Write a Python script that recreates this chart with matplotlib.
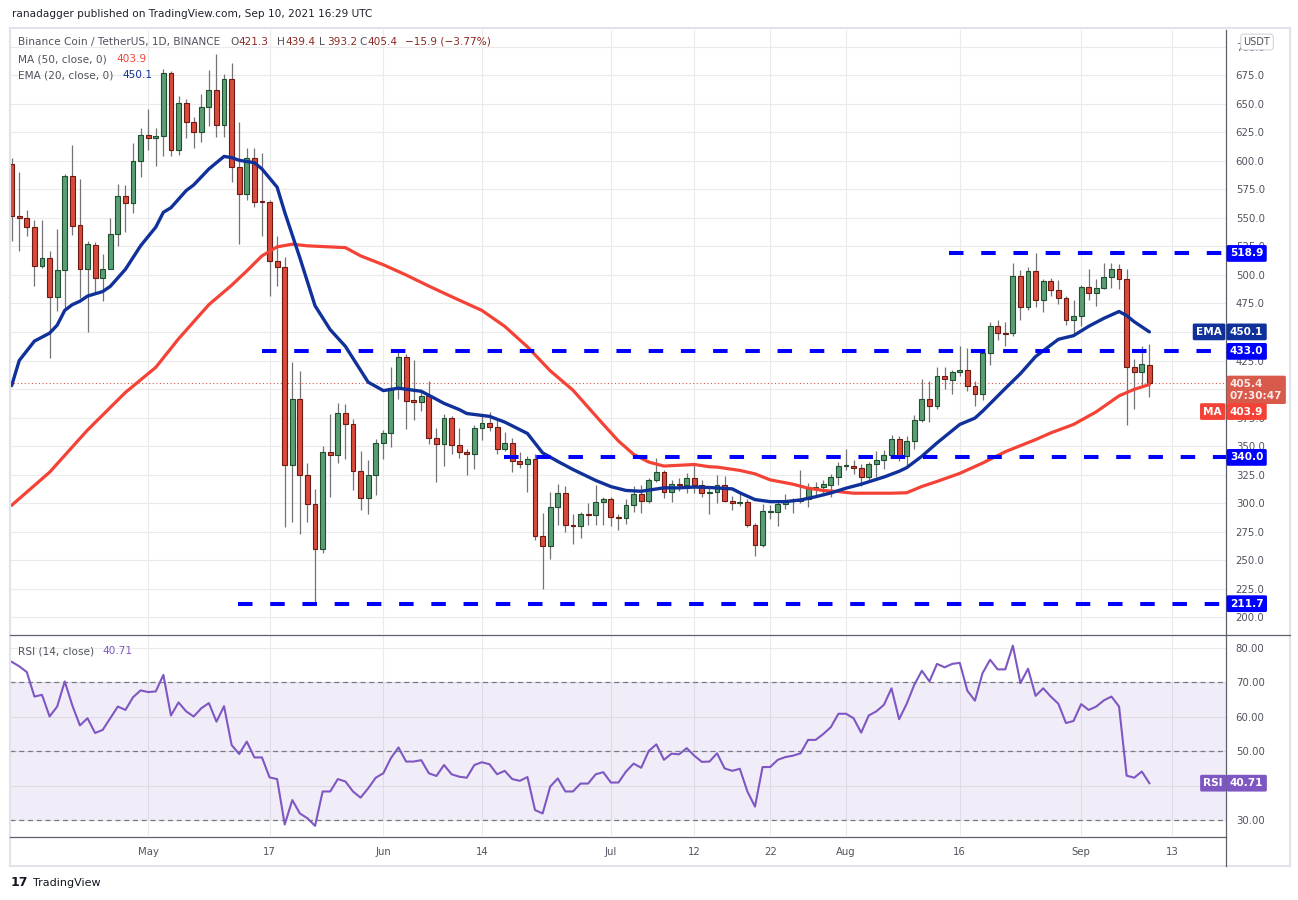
import matplotlib
matplotlib.use("Agg")
import matplotlib.pyplot as plt
import matplotlib.transforms as mtransforms
from matplotlib.lines import Line2D
from matplotlib.patches import Rectangle
import numpy as np
import pandas as pd

# ---- data (BNB/USDT daily, 13 Apr - 10 Sep 2021) ----
start_date = "2021-04-13"

opens = [597, 551.5, 549.7, 541.8, 508, 514.5, 481, 504, 587, 544,
         505, 526, 497, 505, 535.6, 569, 563, 600, 623, 620,
         622, 677, 610, 651, 634, 625, 647, 662, 632, 672,
         595, 571, 603, 564.5, 564, 512, 507.4, 333.6, 391, 325,
         299, 259.5, 345, 342.4, 378.6, 369, 328.3, 304.5, 324.8, 353,
         361.8, 400.6, 428, 390.4, 389, 393.6, 357.4, 352, 375, 351,
         345, 343.3, 366, 370.6, 367, 347.7, 353, 337, 334.4, 338.8,
         271, 262, 296.5, 308.8, 280.6, 279.4, 290.3, 289.2, 301, 303.8,
         288, 286.5, 298.3, 308, 301.8, 320.6, 327.4, 309.7, 316.8, 315.6,
         322, 315.6, 308.8, 309.5, 316, 302, 299.8, 301.2, 280.6, 263.6,
         292.4, 292.4, 299, 301.5, 301.8, 303.3, 312.3, 313.8, 316.2, 322.7,
         332.7, 332.4, 330.6, 323.2, 333.9, 337.9, 342, 356.5, 340.9, 354.7,
         372.4, 391, 385.3, 411, 408.3, 414.5, 416.5, 402.4, 395.9, 431.2,
         455, 449, 448.8, 499.4, 471.8, 503.5, 478.5, 495, 487, 479.7,
         460.3, 463.8, 489.4, 484.1, 488.5, 498.2, 505.3, 496.5, 418.9, 415.3,
         421.3]
highs = [603, 590, 557, 548, 548, 521, 540, 589, 614, 584,
         530, 529, 518, 550, 580, 579, 616, 629, 646, 629,
         681, 678.5, 657, 654, 638.5, 658.5, 680, 694, 676, 686,
         634, 611, 611, 607, 566, 534, 516, 424, 416, 335,
         312.5, 350, 378, 388, 387, 373.3, 346, 337.5, 356.3, 364,
         419, 433, 431, 425.7, 399, 407.4, 365.7, 377.7, 376.6, 365.4,
         347.7, 368.3, 378, 379.4, 373.5, 362.7, 357.4, 345, 341, 342.8,
         291, 310, 317, 314.7, 290.6, 291.8, 300, 316, 305, 305,
         290.3, 303.8, 315, 315.6, 322, 339.7, 329, 320, 321.5, 326.5,
         335, 320.6, 313.9, 324.7, 324, 306, 308.6, 303.3, 282.7, 299.2,
         298, 302, 308, 304, 328.6, 317.4, 318.3, 320.3, 325.6, 335.9,
         347.7, 338, 334, 335.6, 346, 346.8, 360, 359, 358.6, 377,
         409, 407, 419.7, 419.4, 416.8, 437.7, 436.2, 407, 433, 458.5,
         460.6, 458.5, 510.3, 504.7, 507.4, 519.7, 496.2, 497.6, 495.9, 482,
         478.2, 490.9, 505.6, 496.2, 510.9, 510.9, 510, 505.6, 426.2, 437.4,
         439.4]
lows = [530, 521, 534, 490, 506, 427, 468, 470, 535, 480,
        450, 483, 477, 505, 525, 538, 554, 586, 610, 596,
        604, 604, 605, 620, 611, 617, 630.6, 621, 621, 581.5,
        527, 566, 560, 534, 482, 490, 279, 283, 273, 283,
        211.7, 256, 305, 335, 339, 311.6, 294, 290.4, 306.6, 338.6,
        349, 391, 364.5, 372.7, 381, 352, 318.3, 332.5, 343, 339.8,
        324.8, 330, 355, 363, 343, 345.6, 327.4, 331, 309.7, 267.7,
        224.8, 251, 281, 275, 263.9, 268.9, 281, 281, 281, 280,
        276, 281.8, 291.8, 291, 300, 318.5, 304, 300.6, 310.6, 309,
        309, 305, 290, 300, 300.6, 293.9, 297.7, 278.6, 253.6, 261,
        286, 280, 294.8, 291.5, 300, 296.8, 307, 308.6, 305.6, 315.9,
        329, 325.6, 315.3, 318.9, 322.7, 329.7, 339.7, 336.8, 333, 347.4,
        371, 371, 382.7, 399.7, 395.9, 411.5, 398.3, 385, 390.3, 420.9,
        443.3, 438, 446.2, 460.9, 469.4, 471.8, 467.4, 482, 474.7, 456.2,
        448.3, 455, 477.7, 473.2, 488, 488.5, 487.4, 368.3, 382.7, 403.3,
        393.2]
closes = [551.5, 549.7, 541.8, 508, 514.5, 481, 504, 587, 543, 505,
          527, 497, 505, 535.6, 569, 563, 600, 623, 620, 622,
          677, 610, 651, 634, 625, 647, 662, 632, 672, 595,
          571, 603, 564, 564, 512, 507.4, 333.6, 391, 325, 299,
          259.5, 345, 342.4, 378.6, 369, 328.3, 304.5, 324.8, 353, 361.8,
          400.6, 428, 389.8, 389, 393.6, 357.4, 352, 375, 351, 345,
          343.3, 365.4, 370.6, 367, 347.7, 353, 337, 334.4, 338.8, 271,
          262, 296.5, 308.8, 280.6, 279.4, 290.3, 289.2, 301, 303.8, 287.7,
          286.5, 298.3, 308, 301.8, 320.6, 327.4, 309.7, 316.8, 315.6, 322,
          315.6, 308.8, 309.5, 316, 302, 299.8, 301.2, 280.6, 263.6, 293,
          293, 299, 301.8, 302.7, 303.3, 313.3, 313.8, 316.9, 323.2, 332.7,
          333.2, 330.3, 323.2, 334.2, 337.9, 342, 356.5, 340.9, 354.7, 372.4,
          391, 385.3, 411, 408.9, 414.7, 416.5, 402.4, 395.9, 431.5, 455,
          448.8, 448.6, 499.4, 471.8, 503.5, 478, 495, 487, 479.7, 460.3,
          463.8, 489.4, 484.1, 488.5, 498.2, 505.3, 496.5, 418.9, 415.3, 421.5,
          405.4]

# EMA(20) and MA(50) lines, read at these candle indices
ema_idx = [0, 1, 3, 5, 6, 7, 8, 9, 10, 12, 13, 15, 17, 19, 20, 21, 23, 24, 26, 28,
           29, 30, 32, 33, 35, 36, 38, 40, 42, 44, 47, 49, 51, 54, 56, 57, 59, 60, 63, 65,
           68, 70, 72, 74, 77, 79, 81, 83, 86, 88, 90, 92, 95, 96, 98, 100, 102, 104, 106, 108,
           110, 112, 115, 117, 118, 120, 122, 125, 127, 128, 131, 133, 135, 138, 140, 142, 144, 146, 147, 148,
           150]
ema_val = [403, 425, 442, 449, 456, 469, 474, 477, 481.5, 485.5, 490, 505, 525.6, 542, 555, 559, 574, 579, 593, 604,
           603, 600.6, 598.5, 593, 577, 555, 515, 473, 452, 437.4, 406, 398.6, 400.7, 398, 391, 387.4, 382, 378.5, 376, 371,
           361, 344, 336.5, 329.4, 319.8, 314.4, 311, 310.3, 313.3, 313.3, 314, 313.6, 312.4, 309, 303, 301.2, 301.2, 302.7, 305.5, 308.8,
           313, 316.5, 322.8, 327.8, 331, 341, 352.7, 368.9, 374.5, 380.5, 400.5, 413.5, 428.5, 443.6, 446.8, 455, 462, 468, 464.4, 459,
           450.1]
ma_idx = [0, 5, 10, 15, 19, 22, 26, 29, 31, 33, 35, 37, 39, 44, 46, 49, 52, 55, 58, 62,
          65, 68, 71, 74, 78, 80, 82, 84, 86, 90, 92, 93, 96, 98, 100, 103, 105, 107, 109, 111,
          114, 116, 118, 120, 122, 125, 128, 131, 135, 137, 140, 143, 146, 148, 150]
ma_val = [298, 327, 364, 397, 419, 444, 474, 491, 503.6, 516.8, 524.7, 527, 525.6, 524, 516.8, 509, 500, 490.3, 481, 468.9,
          455, 437, 416, 399, 369, 354.4, 342.7, 335.9, 332.4, 333.8, 331.8, 331.5, 328.6, 325.6, 320.3, 316.5, 313, 311, 310, 308.6,
          308.6, 308.6, 309, 314.5, 318.9, 326, 335, 345, 355.6, 361.5, 368.9, 380, 394, 399.7, 403.9]

rsi = [76, 74.7, 73, 65.9, 66.4, 60.1, 63, 70.3, 63.3, 57.5,
       59.6, 55.3, 56.2, 59.6, 63, 62, 65.7, 67.7, 67.2, 67.4,
       72.2, 60.4, 64.2, 61.6, 60.1, 62.5, 64, 58.6, 63.1, 51.8,
       49.2, 52.8, 48.2, 48.2, 42.4, 41.9, 28.7, 35.8, 31.9, 30.5,
       28.3, 38.3, 38.3, 41.9, 41.2, 38.3, 36.5, 39.2, 42.3, 43.6,
       48, 51.1, 47, 47, 47.4, 43.6, 42.8, 46, 43.3, 42.6,
       42.3, 46, 46.8, 46.2, 43.3, 44.3, 41.9, 41.4, 42.5, 32.9,
       31.9, 39.7, 42.1, 38.3, 38.3, 40.6, 40.6, 43.3, 43.9, 40.9,
       40.9, 44.1, 46.4, 45.2, 50.1, 52, 47.5, 49.3, 49.1, 50.9,
       48.7, 46.9, 47, 49.4, 45, 44.3, 44.9, 38.3, 33.9, 45.4,
       45.4, 47.5, 48.3, 48.7, 49.4, 53.3, 53.3, 55, 57, 60.9,
       60.9, 59.6, 55.4, 60.4, 61.6, 63.5, 68.3, 59.3, 63.8, 69.3,
       73.4, 70.3, 75.4, 74.4, 75.4, 75.7, 67.6, 64.7, 72.7, 76.6,
       73.8, 73.8, 80.7, 69.8, 74, 66.1, 68.3, 65.9, 63.8, 58.2,
       58.8, 63.7, 62, 63, 64.8, 65.9, 63, 42.9, 42.3, 44.1,
       40.71]

# horizontal support / resistance levels and where they start (candle index)
levels = [518.9, 433.0, 340.0, 211.7]
level_start = [123.6, 33.0, 64.9, 29.8]

tick_dates = ["2021-05-01", "2021-05-17", "2021-06-01", "2021-06-14", "2021-07-01", "2021-07-12",
              "2021-07-22", "2021-08-01", "2021-08-16", "2021-09-01", "2021-09-13"]
tick_names = ["May", "17", "Jun", "14", "Jul", "12", "22", "Aug", "16", "Sep", "13"]

last_close = closes[-1]
ema_last = ema_val[-1]
ma_last = ma_val[-1]

# ---- colours ----
UP, UP_EDGE = "#5b9e76", "#1f4f2c"
DN, DN_EDGE = "#d84b3c", "#6e1a13"
WICK = "#747474"
EMA_C = "#10309a"
MA_C = "#f44336"
RSI_C = "#7e57c2"
GRID = "#ebebeb"
TXT = "#50535e"
LEVEL_C = "#0000ff"

W, H = 1298, 900
fig = plt.figure(figsize=(W / 100, H / 100), dpi=100)
plt.rcParams['font.family'] = ['DejaVu Sans']


def fx(px):
    return px / W


def fy(py):
    return 1 - py / H


ax = fig.add_axes([fx(10), fy(634), fx(1226) - fx(10), fy(30) - fy(634)])
ax_r = fig.add_axes([fx(10), fy(836), fx(1226) - fx(10), fy(635) - fy(836)], sharex=ax)

n = len(closes)
x = np.arange(n)
o = np.array(opens)
c = np.array(closes)
hi = np.array(highs)
lo = np.array(lows)
up = c >= o

dates = pd.date_range(start_date, periods=n, freq="D")
tick_pos = [(pd.Timestamp(d) - dates[0]).days for d in tick_dates]

# ---- price panel ----
ax.vlines(x, lo, hi, color=WICK, lw=0.9, zorder=2)
body = np.maximum(np.abs(c - o), 0.7)
bottom = np.minimum(o, c)
ax.bar(x[up], body[up], bottom=bottom[up], width=0.64, color=UP, edgecolor=UP_EDGE, lw=0.8, zorder=3)
ax.bar(x[~up], body[~up], bottom=bottom[~up], width=0.64, color=DN, edgecolor=DN_EDGE, lw=0.8, zorder=3)

ax.plot(ma_idx, ma_val, color=MA_C, lw=2.3, zorder=4, solid_capstyle="round")
ax.plot(ema_idx, ema_val, color=EMA_C, lw=2.4, zorder=4, solid_capstyle="round")

xmax = 160.1
for lv, st in zip(levels, level_start):
    ax.hlines(lv, st, xmax, color=LEVEL_C, lw=2.9, linestyles=(0, (3.6, 4.4)), zorder=5)

ax.axhline(last_close, color="#d9574a", lw=0.8, ls=(0, (1, 2.2)), zorder=1)

ax.set_xlim(-0.22, xmax)
ax.set_ylim(185.1, 714.9)
ax.set_yticks(np.arange(200, 701, 25))
ax.set_yticklabels([f"{v:.1f}" for v in np.arange(200, 701, 25)])
ax.yaxis.tick_right()
ax.tick_params(axis="y", length=0, pad=7, labelsize=7.3, labelcolor=TXT)
ax.tick_params(axis="x", length=0, labelbottom=False)
ax.set_xticks(tick_pos)
ax.grid(True, color=GRID, lw=0.8)
ax.set_axisbelow(True)
for s in ax.spines.values():
    s.set_visible(False)

# ---- RSI panel ----
ax_r.axhspan(30, 70, color=RSI_C, alpha=0.1, lw=0)
for lv in (70, 50, 30):
    ax_r.axhline(lv, color="#787b86", lw=0.9, ls=(0, (4, 3)))
ax_r.plot(x, rsi, color=RSI_C, lw=1.5, zorder=4)
ax_r.set_ylim(25.35, 83.8)
ax_r.set_yticks([30, 40, 50, 60, 70, 80])
ax_r.set_yticklabels(["30.00", "40.00", "50.00", "60.00", "70.00", "80.00"])
ax_r.yaxis.tick_right()
ax_r.tick_params(axis="y", length=0, pad=7, labelsize=7.3, labelcolor=TXT)
ax_r.set_xticks(tick_pos)
ax_r.set_xticklabels(tick_names)
ax_r.tick_params(axis="x", length=0, pad=8, labelsize=7.3, labelcolor=TXT)
ax_r.grid(True, color=GRID, lw=0.8)
ax_r.set_axisbelow(True)
for s in ax_r.spines.values():
    s.set_visible(False)

# ---- frame lines ----
fig.add_artist(Rectangle((fx(10), fy(866)), fx(1290) - fx(10), fy(28) - fy(866), transform=fig.transFigure,
                         fill=False, ec="#e0e3eb", lw=1.5))
fig.add_artist(Line2D([fx(1226), fx(1226)], [fy(866), fy(30)], color="#5d606b", lw=0.9))
fig.add_artist(Line2D([fx(10), fx(1290)], [fy(634.5), fy(634.5)], color="#5d606b", lw=0.9))
fig.add_artist(Line2D([fx(10), fx(1226)], [fy(836.5), fy(836.5)], color="#5d606b", lw=0.9))

# ---- right-axis labels (figure-level so they sit on top of the tick labels) ----
tp = mtransforms.blended_transform_factory(fig.transFigure, ax.transData)
tr = mtransforms.blended_transform_factory(fig.transFigure, ax_r.transData)


def tag(trans, y, s, fc, xpx=1230, dy=0, size=7.6, tc="white", ha="left"):
    shift = mtransforms.ScaledTranslation(0, dy / 100, fig.dpi_scale_trans)
    fig.text(fx(xpx), y, s, transform=trans + shift, ha=ha, va="center", fontsize=size, color=tc,
             fontweight="bold", zorder=10,
             bbox=dict(boxstyle="round,pad=0.32,rounding_size=0.15", fc=fc, ec="none"))


for lv in levels:
    tag(tp, lv, f"{lv:.1f}", LEVEL_C)
tag(tp, ema_last, f"{ema_last:.1f}", EMA_C)
tag(tp, ema_last, "EMA", EMA_C, xpx=1222, ha="right")
tag(tp, last_close, f"{last_close:.1f}\n07:30:47", "#d85a4b", dy=-7, tc="#fbe9e7")
tag(tp, ma_last, f"{ma_last:.1f}", MA_C, dy=-27)
tag(tp, ma_last, "MA", MA_C, xpx=1222, dy=-27, ha="right")
tag(tr, rsi[-1], f"{rsi[-1]:.2f}", RSI_C)
tag(tr, rsi[-1], "RSI", RSI_C, xpx=1223, ha="right")

fig.text(fx(1257), fy(42), "USDT", ha="center", va="center", fontsize=7, color=TXT, zorder=10,
         bbox=dict(boxstyle="round,pad=0.3", fc="white", ec="#d1d4dc", lw=0.8))

# ---- legends / header ----
fig.text(fx(12), fy(14), "ranadagger published on TradingView.com, Sep 10, 2021 16:29 UTC",
         fontsize=7.6, color="#1e222d", va="center")
fig.text(fx(18), fy(42), "Binance Coin / TetherUS, 1D, BINANCE", fontsize=7.6, color=TXT, va="center")
OHLC_C = "#8b2a22"
for xp, lab, val in [(230, "O", opens[-1]), (277, "H", highs[-1]), (319, "L", lows[-1]), (359, "C", closes[-1])]:
    fig.text(fx(xp), fy(42), lab, fontsize=7.6, color=TXT, va="center")
    fig.text(fx(xp + 8), fy(42), f"{val:.1f}", fontsize=7.6, color=OHLC_C, va="center")
chg = closes[-1] - opens[-1]
fig.text(fx(405), fy(42), f"\u2212{abs(chg):.1f} (\u2212{abs(chg) / opens[-1] * 100:.2f}%)",
         fontsize=7.6, color=OHLC_C, va="center")
fig.text(fx(18), fy(59), "MA (50, close, 0)", fontsize=7.6, color=TXT, va="center")
fig.text(fx(116), fy(59), f"{ma_last:.1f}", fontsize=7.6, color=MA_C, va="center")
fig.text(fx(18), fy(75), "EMA (20, close, 0)", fontsize=7.6, color=TXT, va="center")
fig.text(fx(122), fy(75), f"{ema_last:.1f}", fontsize=7.6, color=EMA_C, va="center")
fig.text(fx(18), fy(651), "RSI (14, close)", fontsize=7.6, color=TXT, va="center")
fig.text(fx(102), fy(651), f"{rsi[-1]:.2f}", fontsize=7.6, color=RSI_C, va="center")

fig.text(fx(11), fy(883), "17", fontsize=9, fontweight="heavy", color="#131722", va="center")
fig.text(fx(33), fy(883), "TradingView", fontsize=8, color="#131722", va="center")

fig.savefig("out.png", dpi=100)
